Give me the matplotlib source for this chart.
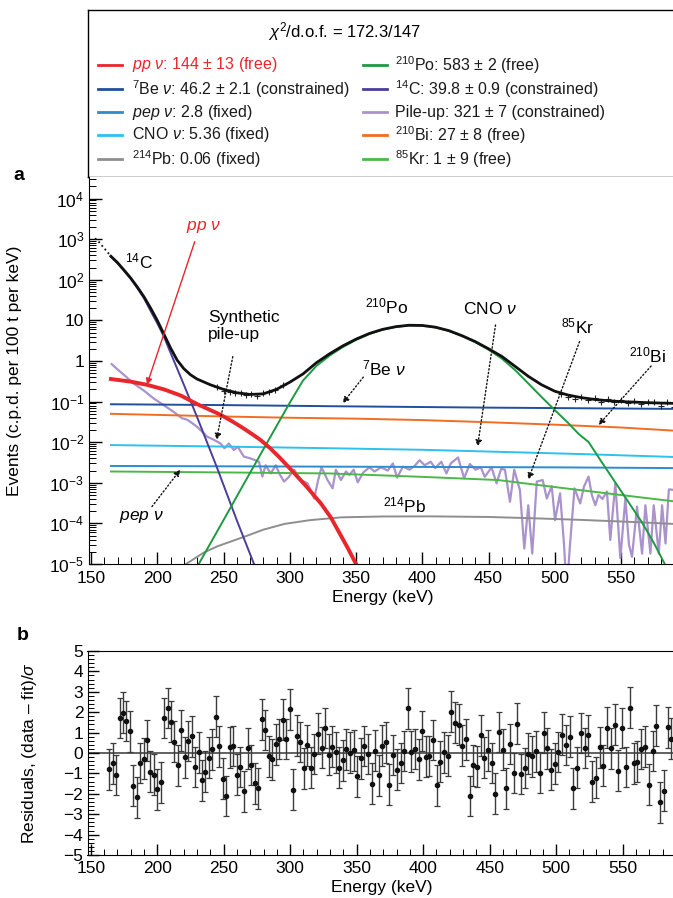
import numpy as np
import matplotlib
matplotlib.use('Agg')
import matplotlib.pyplot as plt
from matplotlib.ticker import MultipleLocator, LogLocator, FuncFormatter

plt.rcParams['font.family'] = ['Liberation Sans', 'DejaVu Sans']
plt.rcParams['mathtext.fontset'] = 'custom'
plt.rcParams['mathtext.rm'] = 'Liberation Sans'
plt.rcParams['mathtext.it'] = 'Liberation Sans:italic'
plt.rcParams['mathtext.bf'] = 'Liberation Sans:bold'

# ---------------- data ----------------
# spectral components (energy keV, c.p.d. per 100 t per keV)
pp_E = [165, 180, 192, 205, 218, 230, 240, 248, 257, 265, 272, 278, 285, 292, 301, 312, 323.5, 331, 338.6, 344, 350, 353]
pp_v = [0.36, 0.31, 0.26, 0.2, 0.14, 0.087, 0.062, 0.047, 0.032, 0.022, 0.0155, 0.0113, 0.0072, 0.0043, 0.0021,
        8.5e-4, 3.1e-4, 1.4e-4, 5e-5, 2.4e-5, 1e-5, 6.5e-6]

be7_E = [165, 250, 330, 450, 593]
be7_v = [0.086, 0.082, 0.077, 0.071, 0.066]

pep_E = [165, 330, 500, 593]
pep_v = [0.0026, 0.0025, 0.0024, 0.0023]

cno_E = [165, 250, 330, 400, 457, 520, 593]
cno_v = [0.0085, 0.0078, 0.0071, 0.0065, 0.0058, 0.0051, 0.0043]

pb214_E = [215, 221.7, 235, 245, 268, 280, 296, 315, 339, 370, 407, 450, 483, 520, 560, 593]
pb214_v = [6e-6, 1e-5, 1.9e-5, 2.7e-5, 5e-5, 7e-5, 9.7e-5, 1.2e-4, 1.41e-4, 1.48e-4, 1.49e-4, 1.44e-4,
           1.34e-4, 1.22e-4, 1.08e-4, 9.6e-5]

po210_E = [225, 231.3, 248.6, 265.8, 283.1, 300.5, 310, 320, 330, 340, 350, 360, 370, 380, 390, 400, 410, 420,
           430, 440, 450, 460, 470, 476, 480, 490, 500, 510, 518, 525.5, 535, 545.7, 556, 566, 575, 583, 588]
po210_v = [3e-6, 1e-5, 1e-4, 1e-3, 1e-2, 0.1, 0.33, 0.75, 1.35, 2.2, 3.3, 4.6, 5.9, 6.9, 7.5, 7.4, 6.7, 5.5,
           4.1, 2.9, 1.9, 1.15, 0.6, 0.38, 0.28, 0.13, 0.062, 0.03, 0.016, 0.0101, 0.0034, 1.02e-3, 3.2e-4,
           1.04e-4, 3.2e-5, 1e-5, 5e-6]

c14_E = [165, 170, 175, 180, 185, 190, 195, 200, 205, 210, 218.6, 230, 245, 260, 273, 278]
c14_v = [370, 255, 165, 105, 62, 35, 17, 8.5, 4.0, 1.6, 0.34, 0.042, 0.0024, 1.2e-4, 1e-5, 4e-6]

bi210_E = [165, 200, 250, 300, 350, 400, 450, 500, 550, 593]
bi210_v = [0.050, 0.047, 0.043, 0.040, 0.038, 0.035, 0.031, 0.027, 0.023, 0.019]

kr85_E = [165, 250, 330, 400, 457, 508, 550, 593]
kr85_v = [0.0019, 0.0018, 0.0017, 0.0014, 0.00117, 0.00073, 0.0005, 0.00034]

pile_E = [165.6, 170, 175, 182.1, 189.6, 197.2, 204.8, 212.3, 218.6, 222.4, 226, 230, 234, 237.6, 242.6, 247.7,
          250.7, 254, 257.8, 260.8, 265.4, 269.2, 273, 276.8, 279.3, 281.8, 285.6, 289.4, 292.5, 295.7, 299.5,
          303.3, 308.3, 313.4, 318.4, 321.5, 324, 328.5, 332.3, 334.8, 338.6, 342.4, 345, 348.2, 351.3, 355.5,
          360.1, 363.9, 368.9, 374, 377.8, 381, 385.4, 390.4, 394.2, 398, 401.8, 406.3, 409.8, 414.4, 418.2,
          421.5, 427, 431.6, 435.9, 440.2, 444.2, 447.2, 452.3, 456.1, 459.5, 462.4, 466.2, 469.4, 473.7, 477,
          480, 483, 486.4, 490.9, 494, 497.7, 500.2, 504, 507, 509, 511.5, 514.9, 519.2, 522, 525.5, 528, 530.6,
          533, 536, 539.4, 541.9, 545.7, 549.5, 553.3, 556, 558.3, 562.1, 565.9, 568.4, 572.2, 574.7, 578.5,
          581, 583.6, 586.1, 590.9, 593]
pile_v = [0.84, 0.62, 0.45, 0.28, 0.19, 0.12, 0.082, 0.056, 0.039, 0.036, 0.03, 0.024, 0.018, 0.0137, 0.0115,
          0.0093, 0.0071, 0.0093, 0.0064, 0.0077, 0.0044, 0.0041, 0.0037, 0.0033, 0.00142, 0.0027, 0.0017, 0.0027,
          0.0016, 0.00107, 0.00142, 0.0021, 0.00117, 0.00097, 0.00041, 0.0012, 0.0024, 0.00117, 0.00073, 0.0021,
          0.00117, 0.0019, 0.00156, 0.0021, 0.00103, 0.0018, 0.0024, 0.0019, 0.0024, 0.002, 0.003, 0.00134,
          0.0025, 0.0021, 0.0026, 0.0036, 0.0027, 0.0033, 0.0023, 0.0033, 0.0017, 0.003, 0.0042, 0.0013, 0.0029,
          0.0021, 0.0024, 0.0014, 0.0024, 0.00097, 0.0022, 0.0021, 0.00034, 0.0021, 0.00066, 2.4e-5, 0.00028,
          1.8e-5, 0.00107, 0.00117, 0.00041, 0.00083, 0.00012, 0.00055, 3e-5, 2e-6, 3e-5, 0.00073, 0.00031,
          0.0008, 0.00142, 0.0005, 0.00028, 0.0005, 0.0004, 0.00061, 3.9e-5, 0.00097, 1.4e-5, 0.00041, 3e-5,
          1.5e-5, 0.00026, 1.8e-5, 0.00028, 1.8e-5, 0.00028, 1.8e-5, 0.00028, 3.2e-5, 0.00069, 0.00066, 0.00066]

# total fit
fit_E = [165, 170, 175, 180, 185, 190, 195, 200, 205, 210, 215, 220, 225, 230, 240, 250, 260, 270, 280, 290,
         300, 310, 320, 330, 340, 350, 360, 370, 380, 390, 400, 410, 420, 430, 440, 450, 460, 470, 480, 490,
         500, 510, 520, 530, 540, 550, 560, 570, 580, 593]
fit_v = [380, 265, 172, 110, 66, 38, 20, 10, 4.6, 2.1, 1.05, 0.65, 0.46, 0.36, 0.26, 0.2, 0.165, 0.15, 0.155,
         0.2, 0.3, 0.48, 0.9, 1.5, 2.35, 3.45, 4.75, 6.0, 7.0, 7.6, 7.5, 6.8, 5.6, 4.2, 3.0, 2.0, 1.3, 0.74,
         0.42, 0.26, 0.18, 0.145, 0.125, 0.113, 0.105, 0.1, 0.097, 0.094, 0.092, 0.09]
low_E = [153, 156, 159, 162, 165]
low_v = [1050, 850, 650, 500, 380]

# data points visible off the fit curve
dat_E = [245, 250, 255, 259, 263, 267, 271, 275, 280, 284, 289, 295, 505, 510, 515, 520, 525, 530, 535, 540,
         545, 550, 555, 560, 565, 570, 575, 580, 585, 590]
dat_v = [0.23, 0.18, 0.17, 0.16, 0.165, 0.145, 0.155, 0.14, 0.16, 0.17, 0.19, 0.25, 0.15, 0.13, 0.115, 0.13,
         0.11, 0.12, 0.1, 0.115, 0.095, 0.11, 0.09, 0.105, 0.085, 0.1, 0.095, 0.08, 0.1, 0.075]

# residuals
res_E = [163.8, 166.5, 169.0, 171.8, 174.3, 176.8, 179.3, 182.1, 184.6, 187.1,
         189.8, 192.3, 194.8, 197.6, 200.1, 202.6, 205.4, 207.9, 210.4, 212.9,
         215.6, 218.1, 220.6, 223.4, 225.9, 228.4, 231.2, 233.7, 236.2, 238.9,
         241.5, 244.0, 246.7, 249.2, 252.0, 254.5, 257.0, 259.7, 262.5, 265.0,
         268.0, 270.5, 273.3, 275.8, 278.5, 281.1, 283.8, 286.3, 289.1, 291.6,
         294.3, 296.8, 299.6, 302.4, 304.9, 307.4, 310.1, 312.9, 315.4, 318.2,
         320.9, 323.7, 326.2, 328.9, 331.4, 334.2, 336.9, 339.4, 342.2, 345.0,
         347.7, 350.2, 353.0, 355.7, 358.5, 361.3, 363.8, 366.5, 369.3, 372.0,
         374.5, 377.5, 380.3, 383.1, 385.6, 388.3, 391.1, 393.8, 396.6, 399.4,
         401.9, 404.6, 407.4, 410.1, 412.9, 415.6, 418.4, 421.2, 423.9, 426.7,
         429.4, 432.2, 434.9, 437.7, 440.5, 443.2, 446.0, 448.7, 451.5, 454.2,
         457.0, 459.8, 462.5, 465.3, 468.0, 470.8, 473.5, 476.3, 479.0, 481.8,
         484.8, 487.8, 490.6, 493.3, 496.1, 498.8, 501.6, 504.4, 507.1, 510.1,
         512.9, 515.6, 518.4, 521.4, 524.2, 526.9, 529.7, 532.7, 535.4, 538.2,
         541.2, 544.0, 546.7, 549.7, 552.5, 555.2, 558.2, 561.0, 563.8, 566.8,
         569.5, 572.5, 575.3, 578.0, 581.1, 583.8, 586.6]
res_v = [-0.79, -0.51, -1.08, 1.72, 1.97, 1.57, 1.07, -1.61, -2.18, -0.49,
         -0.28, 0.62, -0.92, -1.07, -1.77, -1.44, 1.72, 2.21, 1.54, 0.56,
         -0.61, 1.11, -0.21, 0.59, 0.82, -0.69, 0.03, -1.34, -0.92, -0.23,
         0.18, 1.77, 0.33, -1.26, -2.11, 0.28, 0.34, -1.07, -0.69, -1.87,
         0.23, -0.59, -1.48, -1.74, 1.66, 1.13, -0.16, -0.30, 0.43, 0.69,
         1.64, 0.69, 2.15, -1.79, 0.84, 0.54, -0.75, 0.38, -0.72, -0.05,
         0.95, 0.26, 1.23, -0.08, 0.31, 0.03, -0.72, -0.36, 0.18, 0.02,
         0.13, -1.15, -0.26, 0.34, -0.05, -1.51, 0.11, -1.10, 0.36, 0.52,
         -1.56, -0.10, -0.82, -0.49, 0.10, 2.20, 0.07, 0.20, -0.31, 1.08,
         -0.18, -0.15, 0.64, -1.59, -0.43, 0.03, -0.13, 2.02, 1.49, 1.39,
         0.36, 0.67, -2.11, -0.61, -0.67, 0.87, -0.23, 0.13, -0.49, -2.00,
         1.03, 0.16, -1.74, 0.44, -0.98, 1.43, -1.03, -0.74, -0.03, -0.16,
         0.08, -0.97, 1.00, 0.23, -0.82, -0.52, 0.05, 0.90, 0.39, 0.80,
         -1.74, -0.72, 0.98, 0.25, 0.87, -1.41, -1.21, 0.28, -0.62, 1.25,
         0.23, 1.38, -0.87, 1.23, -0.69, 2.23, -0.51, -0.43, 0.20, 0.31,
         -1.56, 0.10, 1.33, -2.41, -1.85, 1.26, 0.70]

colors = {
    'pp': '#e8262b', 'be7': '#1f4f9d', 'pep': '#2d8ccd', 'cno': '#2cc1ee', 'pb214': '#8e8e8e',
    'po210': '#1d9a41', 'c14': '#4a3e9b', 'pile': '#aa92cc', 'bi210': '#f26d22', 'kr85': '#4cb84a',
}

legend_left = [
    ('$pp$ $\\nu$: 144 ± 13 (free)', 'pp'),
    ('$^{7}$Be $\\nu$: 46.2 ± 2.1 (constrained)', 'be7'),
    ('$pep$ $\\nu$: 2.8 (fixed)', 'pep'),
    ('CNO $\\nu$: 5.36 (fixed)', 'cno'),
    ('$^{214}$Pb: 0.06 (fixed)', 'pb214'),
]
legend_right = [
    ('$^{210}$Po: 583 ± 2 (free)', 'po210'),
    ('$^{14}$C: 39.8 ± 0.9 (constrained)', 'c14'),
    ('Pile-up: 321 ± 7 (constrained)', 'pile'),
    ('$^{210}$Bi: 27 ± 8 (free)', 'bi210'),
    ('$^{85}$Kr: 1 ± 9 (free)', 'kr85'),
]

# ---------------- layout ----------------
W, H = 673, 898


def box(x0, y0, x1, y1):
    return [x0 / W, 1 - y1 / H, (x1 - x0) / W, (y1 - y0) / H]


fig = plt.figure(figsize=(W / 100, H / 100), dpi=100)
ax_leg = fig.add_axes(box(88, 10, 676, 177))
ax = fig.add_axes(box(88.5, 177, 676, 564))
axr = fig.add_axes(box(87.5, 651, 676, 855))

# ---------------- legend box ----------------
ax_leg.set_xlim(88, 676)
ax_leg.set_ylim(177, 10)
ax_leg.set_xticks([])
ax_leg.set_yticks([])
for s in ax_leg.spines.values():
    s.set_linewidth(1.0)
ax_leg.text(344.5, 32, '$\\chi^2$/d.o.f. = 172.3/147', ha='center', va='center', fontsize=12)
rows = [65, 89, 112, 135, 159]
for (lab, key), y in zip(legend_left, rows):
    ax_leg.plot([98, 122], [y, y], color=colors[key], lw=2)
    ax_leg.text(132, y, lab, va='center', fontsize=11.5,
                color=colors['pp'] if key == 'pp' else '#1a1a1a')
for (lab, key), y in zip(legend_right, rows):
    ax_leg.plot([363, 387], [y, y], color=colors[key], lw=2)
    ax_leg.text(395, y, lab, va='center', fontsize=11.5, color='#1a1a1a')

# ---------------- spectrum panel ----------------
ax.set_yscale('log')
ax.plot(pile_E, pile_v, color=colors['pile'], lw=1.6, solid_joinstyle='round')
ax.plot(be7_E, be7_v, color=colors['be7'], lw=1.4)
ax.plot(bi210_E, bi210_v, color=colors['bi210'], lw=1.4)
ax.plot(cno_E, cno_v, color=colors['cno'], lw=1.4)
ax.plot(pep_E, pep_v, color=colors['pep'], lw=1.4)
ax.plot(kr85_E, kr85_v, color=colors['kr85'], lw=1.4)
ax.plot(pb214_E, pb214_v, color=colors['pb214'], lw=1.4)
ax.plot(c14_E, c14_v, color=colors['c14'], lw=1.4)
ax.plot(po210_E, po210_v, color=colors['po210'], lw=1.4)
ax.plot(dat_E, dat_v, '+', color='#222222', ms=4, mew=0.8)
ax.plot(fit_E, fit_v, color='#111111', lw=2.0, solid_joinstyle='round')
ax.plot(low_E, low_v, ':', color='#111111', lw=1.3)
ax.plot(pp_E, pp_v, color=colors['pp'], lw=2.8, solid_joinstyle='round')

ax.set_xlim(148.1, 591.5)
ax.set_ylim(1e-5, 3.4e4)


def log_fmt(v, pos):
    e = int(round(np.log10(v)))
    if e == 0:
        return '1'
    if e == 1:
        return '10'
    return '$10^{%d}$' % e


ax.yaxis.set_major_locator(LogLocator(base=10, numticks=20))
ax.yaxis.set_minor_locator(LogLocator(base=10, subs=np.arange(2, 10), numticks=20))
ax.yaxis.set_major_formatter(FuncFormatter(log_fmt))
ax.xaxis.set_major_locator(MultipleLocator(50))
ax.xaxis.set_minor_locator(MultipleLocator(10))
ax.tick_params(which='both', direction='in', top=False, right=False, labelsize=12.5)
ax.tick_params(which='major', length=9, width=1)
ax.tick_params(which='minor', length=5, width=0.7)
ax.tick_params(axis='y', pad=3)
ax.tick_params(axis='x', pad=5)
ax.spines['top'].set_visible(False)
ax.set_xlabel('Energy (keV)', fontsize=12.5, labelpad=3)
ax.set_ylabel('Events (c.p.d. per 100 t per keV)', fontsize=12.5)
ax.yaxis.set_label_coords(-0.113, 0.5)

fs = 12.5
dotted = dict(arrowstyle='-|>', linestyle=':', color='#111111', lw=1.0, mutation_scale=9,
              shrinkA=0, shrinkB=0)
ax.text(234.8, 2000, '$pp$ $\\nu$', color=colors['pp'], ha='center', va='center', fontsize=fs)
ax.annotate('', xy=(192.2, 0.26), xytext=(228.3, 870),
            arrowprops=dict(arrowstyle='-|>', color=colors['pp'], lw=1.0, mutation_scale=9,
                            shrinkA=0, shrinkB=0))
ax.text(186.4, 275, '$^{14}$C', ha='center', va='center', fontsize=fs)
ax.text(238.6, 7.3, 'Synthetic\npile-up', ha='left', va='center', fontsize=fs, linespacing=1.15)
ax.annotate('', xy=(244.7, 0.0113), xytext=(257, 1.28), arrowprops=dotted)
ax.text(188.4, 1.45e-4, '$pep$ $\\nu$', ha='center', va='center', fontsize=fs)
ax.annotate('', xy=(217.4, 0.0021), xytext=(196, 2.6e-4), arrowprops=dotted)
ax.text(373.5, 22, '$^{210}$Po', ha='center', va='center', fontsize=fs)
ax.text(451.5, 19, 'CNO $\\nu$', ha='center', va='center', fontsize=fs)
ax.annotate('', xy=(441.7, 0.0078), xytext=(455.3, 7.7), arrowprops=dotted)
ax.text(517.4, 7.1, '$^{85}$Kr', ha='center', va='center', fontsize=fs)
ax.annotate('', xy=(480, 0.0012), xytext=(518.7, 3.0), arrowprops=dotted)
ax.text(570.2, 1.35, '$^{210}$Bi', ha='center', va='center', fontsize=fs)
ax.annotate('', xy=(533, 0.0265), xytext=(572.7, 0.75), arrowprops=dotted)
ax.text(370.8, 0.64, '$^{7}$Be $\\nu$', ha='center', va='center', fontsize=fs)
ax.annotate('', xy=(339.9, 0.091), xytext=(355.5, 0.40), arrowprops=dotted)
ax.text(387, 2.75e-4, '$^{214}$Pb', ha='center', va='center', fontsize=fs)

# ---------------- residual panel ----------------
axr.axhline(0, color='#555555', lw=1.3, zorder=1)
axr.errorbar(res_E, res_v, yerr=1.0, fmt='o', ms=3.0, color='#111111', ecolor='#3c3c3c',
             elinewidth=1.0, capsize=2.5, capthick=0.9, zorder=2)
axr.set_xlim(147.6, 590.1)
axr.set_ylim(-5, 5)
axr.xaxis.set_major_locator(MultipleLocator(50))
axr.xaxis.set_minor_locator(MultipleLocator(10))
axr.yaxis.set_major_locator(MultipleLocator(1))
axr.yaxis.set_minor_locator(MultipleLocator(0.2))
axr.tick_params(which='both', direction='in', top=False, right=False, labelsize=12.5)
axr.tick_params(which='major', length=8, width=1)
axr.tick_params(which='minor', length=4, width=0.7)
axr.tick_params(axis='y', pad=3)
axr.tick_params(axis='x', pad=4.5)
axr.set_xlabel('Energy (keV)', fontsize=12.5, labelpad=3)
axr.set_ylabel('Residuals, (data – fit)/$\\sigma$', fontsize=12.5)
axr.yaxis.set_label_coords(-0.0825, 0.5)

fig.text(19 / W, 1 - 175 / H, 'a', fontsize=14, fontweight='bold', ha='center', va='center')
fig.text(23 / W, 1 - 635 / H, 'b', fontsize=14, fontweight='bold', ha='center', va='center')

fig.savefig('out.png', dpi=100)
